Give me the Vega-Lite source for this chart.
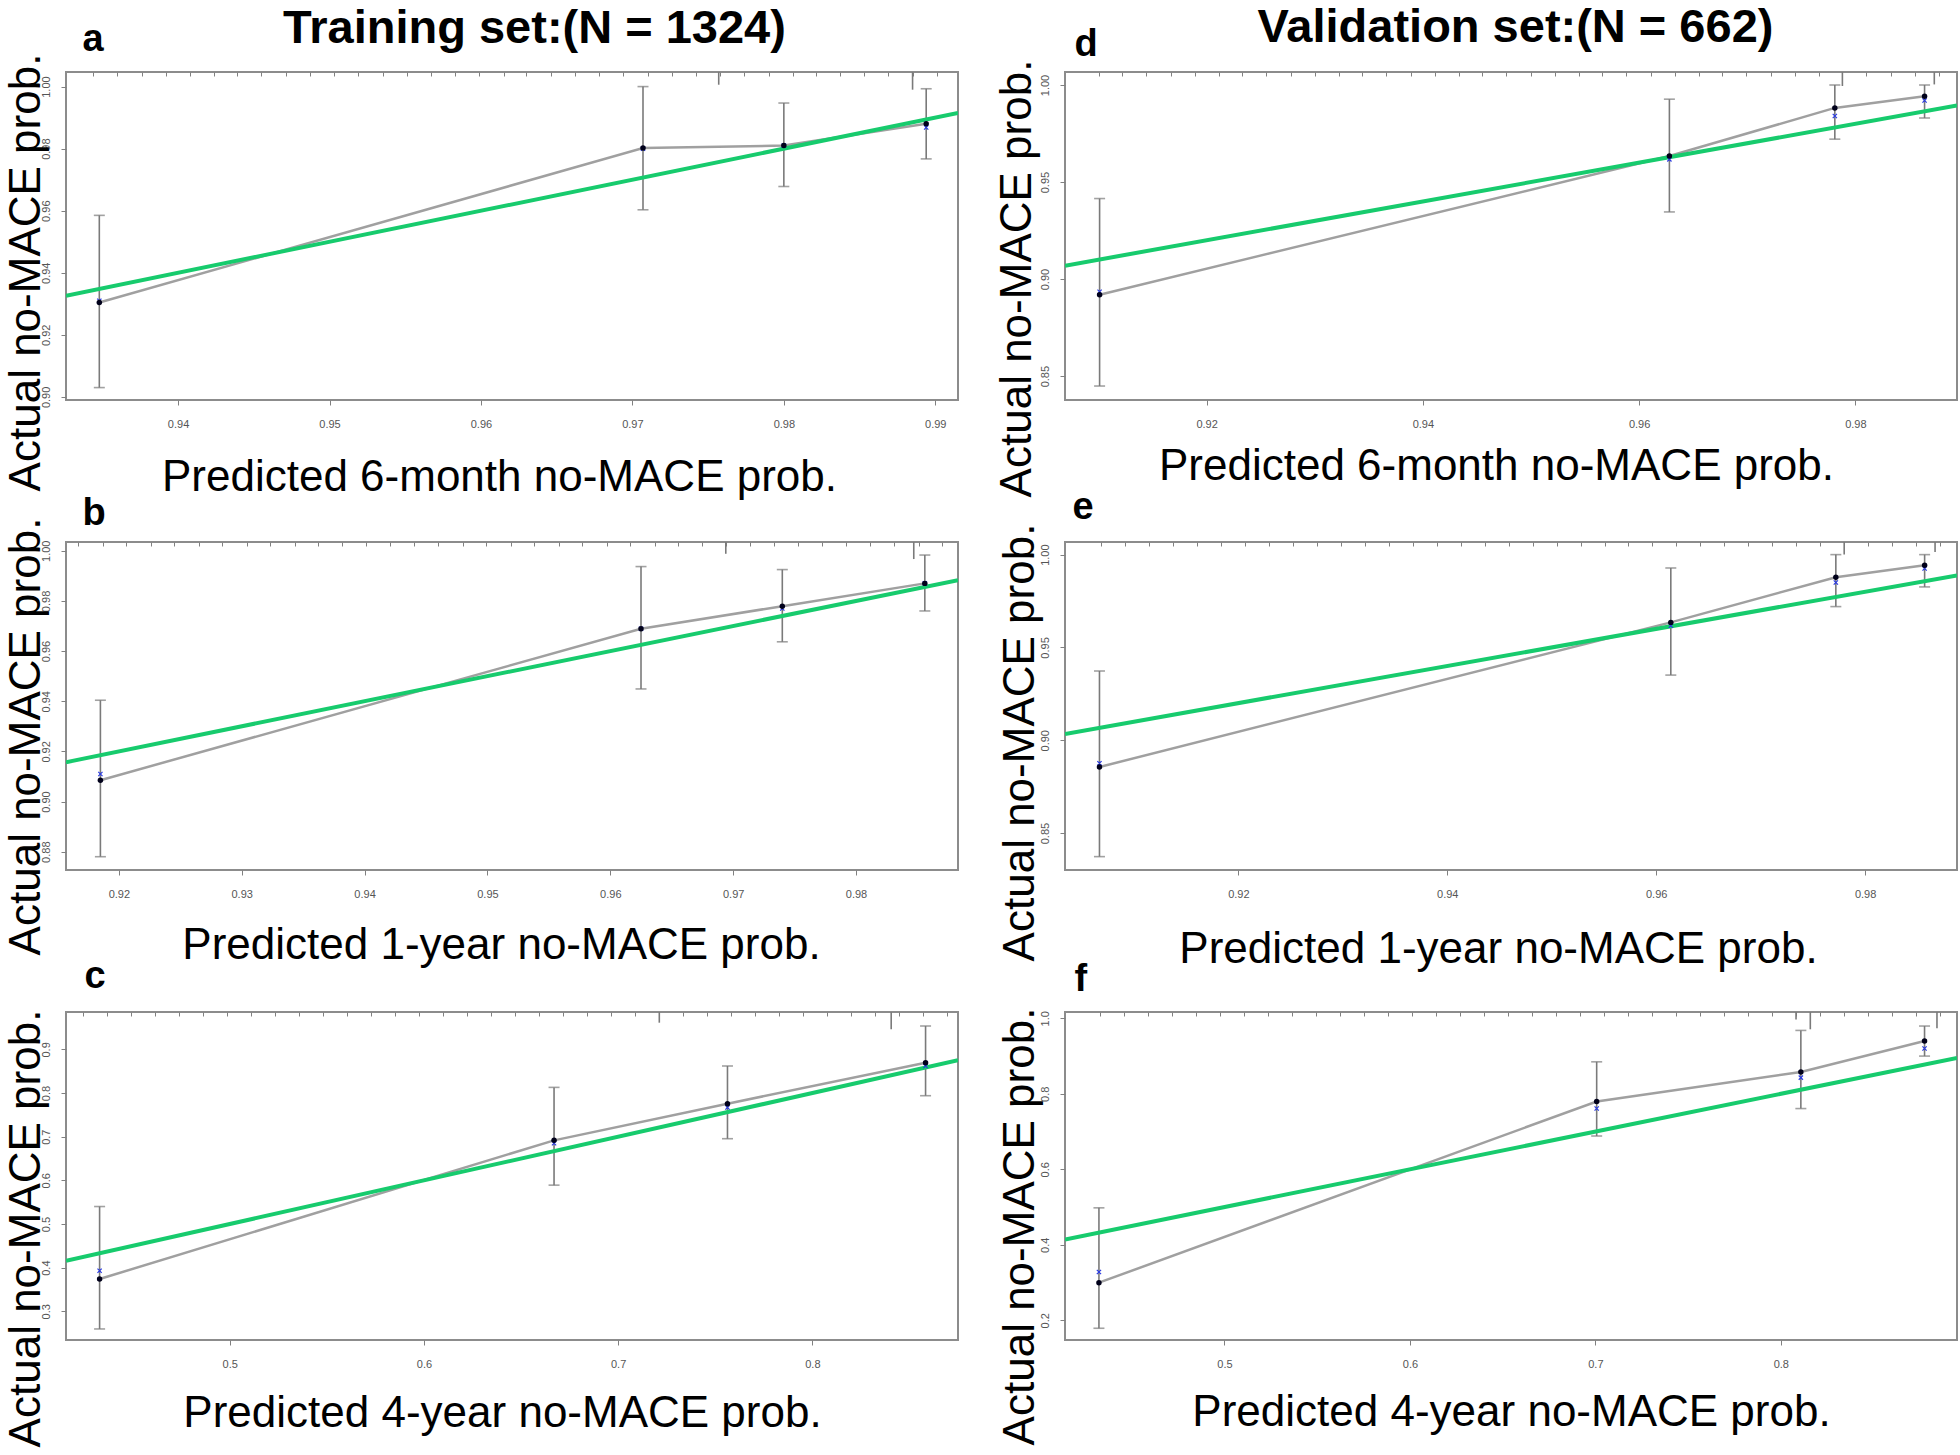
{
  "$schema": "https://vega.github.io/schema/vega-lite/v6.json",
  "background": "white",
  "padding": {"left": 2, "top": 2, "right": 0, "bottom": 0},
  "datasets": {
    "pts": [
      {"panel": "a", "pred": 0.9348, "obs": 0.9304, "lo": 0.903, "hi": 0.9585, "corr": 0.931},
      {"panel": "a", "pred": 0.9707, "obs": 0.9802, "lo": 0.9603, "hi": 1.0, "corr": 0.98},
      {"panel": "a", "pred": 0.98, "obs": 0.981, "lo": 0.9678, "hi": 0.9947, "corr": 0.981},
      {"panel": "a", "pred": 0.9894, "obs": 0.988, "lo": 0.9767, "hi": 0.9993, "corr": 0.9868},
      {"panel": "b", "pred": 0.9185, "obs": 0.9085, "lo": 0.878, "hi": 0.9404, "corr": 0.911},
      {"panel": "b", "pred": 0.9625, "obs": 0.9689, "lo": 0.9449, "hi": 0.9937, "corr": 0.9689},
      {"panel": "b", "pred": 0.974, "obs": 0.9779, "lo": 0.9637, "hi": 0.9925, "corr": 0.977},
      {"panel": "b", "pred": 0.9856, "obs": 0.987, "lo": 0.976, "hi": 0.9983, "corr": 0.987},
      {"panel": "c", "pred": 0.433, "obs": 0.374, "lo": 0.2595, "hi": 0.54, "corr": 0.393},
      {"panel": "c", "pred": 0.667, "obs": 0.6916, "lo": 0.589, "hi": 0.813, "corr": 0.685},
      {"panel": "c", "pred": 0.7563, "obs": 0.7757, "lo": 0.6954, "hi": 0.862, "corr": 0.767},
      {"panel": "c", "pred": 0.8583, "obs": 0.8696, "lo": 0.7939, "hi": 0.9536, "corr": 0.862},
      {"panel": "d", "pred": 0.9101, "obs": 0.8919, "lo": 0.8449, "hi": 0.9415, "corr": 0.8935},
      {"panel": "d", "pred": 0.9628, "obs": 0.9634, "lo": 0.9346, "hi": 0.9927, "corr": 0.9617},
      {"panel": "d", "pred": 0.9781, "obs": 0.9882, "lo": 0.9721, "hi": 1.0, "corr": 0.984},
      {"panel": "d", "pred": 0.9864, "obs": 0.9942, "lo": 0.983, "hi": 1.0, "corr": 0.992},
      {"panel": "e", "pred": 0.9067, "obs": 0.8856, "lo": 0.8373, "hi": 0.9373, "corr": 0.8876},
      {"panel": "e", "pred": 0.9614, "obs": 0.9635, "lo": 0.9351, "hi": 0.9928, "corr": 0.9617},
      {"panel": "e", "pred": 0.9772, "obs": 0.9878, "lo": 0.972, "hi": 1.0, "corr": 0.985},
      {"panel": "e", "pred": 0.9857, "obs": 0.9943, "lo": 0.9826, "hi": 1.0, "corr": 0.9925},
      {"panel": "f", "pred": 0.4323, "obs": 0.2998, "lo": 0.179, "hi": 0.498, "corr": 0.328},
      {"panel": "f", "pred": 0.7007, "obs": 0.7797, "lo": 0.6883, "hi": 0.8848, "corr": 0.761},
      {"panel": "f", "pred": 0.8108, "obs": 0.8578, "lo": 0.761, "hi": 0.968, "corr": 0.843},
      {"panel": "f", "pred": 0.8775, "obs": 0.94, "lo": 0.9, "hi": 0.9796, "corr": 0.92}
    ],
    "ideal": [
      {"panel": "a", "x": 0.9326, "y": 0.9326}, {"panel": "a", "x": 0.9915, "y": 0.9915},
      {"panel": "b", "x": 0.9157, "y": 0.9157}, {"panel": "b", "x": 0.9883, "y": 0.9883},
      {"panel": "c", "x": 0.4157, "y": 0.4157}, {"panel": "c", "x": 0.875, "y": 0.875},
      {"panel": "d", "x": 0.9069, "y": 0.9069}, {"panel": "d", "x": 0.9894, "y": 0.9894},
      {"panel": "e", "x": 0.9034, "y": 0.9034}, {"panel": "e", "x": 0.9888, "y": 0.9888},
      {"panel": "f", "x": 0.414, "y": 0.414}, {"panel": "f", "x": 0.895, "y": 0.895}
    ],
    "spikes": [
      {"panel": "a", "x": 0.9757, "end": 1.0006}, {"panel": "a", "x": 0.9885, "end": 0.999},
      {"panel": "b", "x": 0.9694, "end": 0.9988}, {"panel": "b", "x": 0.9847, "end": 0.9967},
      {"panel": "c", "x": 0.7212, "end": 0.9612}, {"panel": "c", "x": 0.8406, "end": 0.946},
      {"panel": "d", "x": 0.9788, "end": 0.9995}, {"panel": "d", "x": 0.9873, "end": 1.0003},
      {"panel": "e", "x": 0.978, "end": 1.0}, {"panel": "e", "x": 0.9867, "end": 1.0014},
      {"panel": "f", "x": 0.8082, "end": 0.997}, {"panel": "f", "x": 0.8159, "end": 0.971}, {"panel": "f", "x": 0.8842, "end": 0.9735}
    ]
  },
  "config": {
    "view": {"stroke": "#8c8c8c", "strokeWidth": 2},
    "font": "Liberation Sans",
    "axis": {"grid": false, "domain": false, "ticks": true, "tickColor": "#808080", "tickSize": 5, "tickWidth": 1, "labelFont": "Liberation Sans", "labelFontSize": 11, "labelColor": "#555555", "titleFont": "Liberation Sans", "titleFontSize": 44, "titleFontWeight": "normal", "titleColor": "#000000", "titleAlign": "center", "titleBaseline": "alphabetic", "labelOverlap": false, "labelFlush": false},
    "axisX": {"labelAngle": 0, "labelPadding": 13},
    "axisY": {"labelAngle": -90, "labelAlign": "center", "labelBaseline": "bottom", "labelPadding": 10}
  },
  "columns": 2,
  "bounds": "flush",
  "spacing": {"row": 142, "column": 107},
  "concat": [
    {
      "width": 892, "height": 328,
      "resolve": {"axis": {"x": "independent", "y": "independent"}},
      "layer": [
        {"layer": [
          {"data": {"name": "pts"}, "transform": [{"filter": "datum.panel === 'a'"}],
           "mark": {"type": "rule", "color": "#7a7a7a", "strokeWidth": 1.6},
           "encoding": {
             "x": {"field": "pred", "type": "quantitative", "scale": {"domain": [0.9326, 0.9915], "nice": false, "zero": false}, "axis": {"values": [0.94, 0.95, 0.96, 0.97, 0.98, 0.99], "format": ".2f", "title": "Predicted 6-month no-MACE prob.", "titleX": 433, "titleY": 90}},
             "y": {"field": "lo", "type": "quantitative", "scale": {"domain": [0.899, 1.0047], "nice": false, "zero": false}, "axis": {"values": [0.9, 0.92, 0.94, 0.96, 0.98, 1.0], "format": ".2f", "title": "Actual no-MACE prob.", "titleX": -27, "titleY": 200}},
             "y2": {"field": "hi"}}},
          {"data": {"name": "pts"}, "transform": [{"filter": "datum.panel === 'a'"}],
           "mark": {"type": "tick", "orient": "horizontal", "size": 11, "thickness": 1.6, "color": "#7a7a7a"},
           "encoding": {"x": {"field": "pred", "type": "quantitative"}, "y": {"field": "lo", "type": "quantitative"}}},
          {"data": {"name": "pts"}, "transform": [{"filter": "datum.panel === 'a'"}],
           "mark": {"type": "tick", "orient": "horizontal", "size": 11, "thickness": 1.6, "color": "#7a7a7a"},
           "encoding": {"x": {"field": "pred", "type": "quantitative"}, "y": {"field": "hi", "type": "quantitative"}}},
          {"data": {"name": "pts"}, "transform": [{"filter": "datum.panel === 'a'"}],
           "mark": {"type": "line", "color": "#a0a0a0", "strokeWidth": 2.5},
           "encoding": {"x": {"field": "pred", "type": "quantitative"}, "y": {"field": "obs", "type": "quantitative"}}},
          {"data": {"name": "ideal"}, "transform": [{"filter": "datum.panel === 'a'"}],
           "mark": {"type": "line", "color": "#17CB6D", "strokeWidth": 4, "clip": true},
           "encoding": {"x": {"field": "x", "type": "quantitative"}, "y": {"field": "y", "type": "quantitative"}}},
          {"data": {"name": "pts"}, "transform": [{"filter": "datum.panel === 'a'"}],
           "mark": {"type": "point", "shape": "M-1,-1L1,1M-1,1L1,-1", "size": 18, "color": "#2a3ae0", "strokeWidth": 1.2, "filled": false, "opacity": 1},
           "encoding": {"x": {"field": "pred", "type": "quantitative"}, "y": {"field": "corr", "type": "quantitative"}}},
          {"data": {"name": "pts"}, "transform": [{"filter": "datum.panel === 'a'"}],
           "mark": {"type": "point", "shape": "circle", "size": 30, "color": "#00001a", "filled": true, "opacity": 1},
           "encoding": {"x": {"field": "pred", "type": "quantitative"}, "y": {"field": "obs", "type": "quantitative"}}}
        ]},
        {"data": {"name": "spikes"}, "transform": [{"filter": "datum.panel === 'a'"}],
         "mark": {"type": "rule", "color": "#7a7a7a", "strokeWidth": 1.6},
         "encoding": {
           "x": {"field": "x", "type": "quantitative", "axis": {"orient": "top", "labels": false, "ticks": true, "tickSize": -4, "values": [0.9344, 0.936, 0.9376, 0.9392, 0.9408, 0.9424, 0.9439, 0.9455, 0.9471, 0.9487, 0.9503, 0.9519, 0.9535, 0.9551, 0.9567, 0.9583, 0.9599, 0.9615, 0.963, 0.9646, 0.9662, 0.9678, 0.9694, 0.971, 0.9726, 0.9742, 0.9758, 0.9774, 0.979, 0.9806, 0.9821, 0.9837, 0.9853, 0.9869, 0.9885, 0.9901], "title": "Training set:(N = 1324)", "titleFontSize": 47, "titleFontWeight": "bold", "titleX": 468, "titleY": -30}},
           "y": {"field": "end", "type": "quantitative", "axis": {"orient": "right", "labels": false, "ticks": false, "title": "a", "titleAngle": 0.01, "titleAlign": "left", "titleFontSize": 38, "titleFontWeight": "bold", "titleX": -876, "titleY": -22}},
           "y2": {"datum": 1.0047}}}
      ]
    },
    {
      "width": 892, "height": 328,
      "resolve": {"axis": {"x": "independent", "y": "independent"}},
      "layer": [
        {"layer": [
          {"data": {"name": "pts"}, "transform": [{"filter": "datum.panel === 'd'"}],
           "mark": {"type": "rule", "color": "#7a7a7a", "strokeWidth": 1.6},
           "encoding": {
             "x": {"field": "pred", "type": "quantitative", "scale": {"domain": [0.9069, 0.9894], "nice": false, "zero": false}, "axis": {"values": [0.92, 0.94, 0.96, 0.98], "format": ".2f", "title": "Predicted 6-month no-MACE prob.", "titleX": 431, "titleY": 79}},
             "y": {"field": "lo", "type": "quantitative", "scale": {"domain": [0.8377, 1.0067], "nice": false, "zero": false}, "axis": {"values": [0.85, 0.9, 0.95, 1.0], "format": ".2f", "title": "Actual no-MACE prob.", "titleX": -35, "titleY": 206}},
             "y2": {"field": "hi"}}},
          {"data": {"name": "pts"}, "transform": [{"filter": "datum.panel === 'd'"}],
           "mark": {"type": "tick", "orient": "horizontal", "size": 11, "thickness": 1.6, "color": "#7a7a7a"},
           "encoding": {"x": {"field": "pred", "type": "quantitative"}, "y": {"field": "lo", "type": "quantitative"}}},
          {"data": {"name": "pts"}, "transform": [{"filter": "datum.panel === 'd'"}],
           "mark": {"type": "tick", "orient": "horizontal", "size": 11, "thickness": 1.6, "color": "#7a7a7a"},
           "encoding": {"x": {"field": "pred", "type": "quantitative"}, "y": {"field": "hi", "type": "quantitative"}}},
          {"data": {"name": "pts"}, "transform": [{"filter": "datum.panel === 'd'"}],
           "mark": {"type": "line", "color": "#a0a0a0", "strokeWidth": 2.5},
           "encoding": {"x": {"field": "pred", "type": "quantitative"}, "y": {"field": "obs", "type": "quantitative"}}},
          {"data": {"name": "ideal"}, "transform": [{"filter": "datum.panel === 'd'"}],
           "mark": {"type": "line", "color": "#17CB6D", "strokeWidth": 4, "clip": true},
           "encoding": {"x": {"field": "x", "type": "quantitative"}, "y": {"field": "y", "type": "quantitative"}}},
          {"data": {"name": "pts"}, "transform": [{"filter": "datum.panel === 'd'"}],
           "mark": {"type": "point", "shape": "M-1,-1L1,1M-1,1L1,-1", "size": 18, "color": "#2a3ae0", "strokeWidth": 1.2, "filled": false, "opacity": 1},
           "encoding": {"x": {"field": "pred", "type": "quantitative"}, "y": {"field": "corr", "type": "quantitative"}}},
          {"data": {"name": "pts"}, "transform": [{"filter": "datum.panel === 'd'"}],
           "mark": {"type": "point", "shape": "circle", "size": 30, "color": "#00001a", "filled": true, "opacity": 1},
           "encoding": {"x": {"field": "pred", "type": "quantitative"}, "y": {"field": "obs", "type": "quantitative"}}}
        ]},
        {"data": {"name": "spikes"}, "transform": [{"filter": "datum.panel === 'd'"}],
         "mark": {"type": "rule", "color": "#7a7a7a", "strokeWidth": 1.6},
         "encoding": {
           "x": {"field": "x", "type": "quantitative", "axis": {"orient": "top", "labels": false, "ticks": true, "tickSize": -4, "values": [0.91, 0.9122, 0.9144, 0.9167, 0.9189, 0.9211, 0.9233, 0.9255, 0.9278, 0.93, 0.9322, 0.9344, 0.9366, 0.9389, 0.9411, 0.9433, 0.9455, 0.9477, 0.95, 0.9522, 0.9544, 0.9566, 0.9588, 0.9611, 0.9633, 0.9655, 0.9677, 0.9699, 0.9722, 0.9744, 0.9766, 0.9788, 0.981, 0.9833, 0.9855, 0.9877], "title": "Validation set:(N = 662)", "titleFontSize": 47, "titleFontWeight": "bold", "titleX": 450, "titleY": -31}},
           "y": {"field": "end", "type": "quantitative", "axis": {"orient": "right", "labels": false, "ticks": false, "title": "d", "titleAngle": 0.01, "titleAlign": "left", "titleFontSize": 38, "titleFontWeight": "bold", "titleX": -883, "titleY": -17}},
           "y2": {"datum": 1.0067}}}
      ]
    },
    {
      "width": 892, "height": 328,
      "resolve": {"axis": {"x": "independent", "y": "independent"}},
      "layer": [
        {"layer": [
          {"data": {"name": "pts"}, "transform": [{"filter": "datum.panel === 'b'"}],
           "mark": {"type": "rule", "color": "#7a7a7a", "strokeWidth": 1.6},
           "encoding": {
             "x": {"field": "pred", "type": "quantitative", "scale": {"domain": [0.9157, 0.9883], "nice": false, "zero": false}, "axis": {"values": [0.92, 0.93, 0.94, 0.95, 0.96, 0.97, 0.98], "format": ".2f", "title": "Predicted 1-year  no-MACE prob.", "titleX": 435, "titleY": 88}},
             "y": {"field": "lo", "type": "quantitative", "scale": {"domain": [0.8727, 1.0035], "nice": false, "zero": false}, "axis": {"values": [0.88, 0.9, 0.92, 0.94, 0.96, 0.98, 1.0], "format": ".2f", "title": "Actual no-MACE prob.", "titleX": -27, "titleY": 194}},
             "y2": {"field": "hi"}}},
          {"data": {"name": "pts"}, "transform": [{"filter": "datum.panel === 'b'"}],
           "mark": {"type": "tick", "orient": "horizontal", "size": 11, "thickness": 1.6, "color": "#7a7a7a"},
           "encoding": {"x": {"field": "pred", "type": "quantitative"}, "y": {"field": "lo", "type": "quantitative"}}},
          {"data": {"name": "pts"}, "transform": [{"filter": "datum.panel === 'b'"}],
           "mark": {"type": "tick", "orient": "horizontal", "size": 11, "thickness": 1.6, "color": "#7a7a7a"},
           "encoding": {"x": {"field": "pred", "type": "quantitative"}, "y": {"field": "hi", "type": "quantitative"}}},
          {"data": {"name": "pts"}, "transform": [{"filter": "datum.panel === 'b'"}],
           "mark": {"type": "line", "color": "#a0a0a0", "strokeWidth": 2.5},
           "encoding": {"x": {"field": "pred", "type": "quantitative"}, "y": {"field": "obs", "type": "quantitative"}}},
          {"data": {"name": "ideal"}, "transform": [{"filter": "datum.panel === 'b'"}],
           "mark": {"type": "line", "color": "#17CB6D", "strokeWidth": 4, "clip": true},
           "encoding": {"x": {"field": "x", "type": "quantitative"}, "y": {"field": "y", "type": "quantitative"}}},
          {"data": {"name": "pts"}, "transform": [{"filter": "datum.panel === 'b'"}],
           "mark": {"type": "point", "shape": "M-1,-1L1,1M-1,1L1,-1", "size": 18, "color": "#2a3ae0", "strokeWidth": 1.2, "filled": false, "opacity": 1},
           "encoding": {"x": {"field": "pred", "type": "quantitative"}, "y": {"field": "corr", "type": "quantitative"}}},
          {"data": {"name": "pts"}, "transform": [{"filter": "datum.panel === 'b'"}],
           "mark": {"type": "point", "shape": "circle", "size": 30, "color": "#00001a", "filled": true, "opacity": 1},
           "encoding": {"x": {"field": "pred", "type": "quantitative"}, "y": {"field": "obs", "type": "quantitative"}}}
        ]},
        {"data": {"name": "spikes"}, "transform": [{"filter": "datum.panel === 'b'"}],
         "mark": {"type": "rule", "color": "#7a7a7a", "strokeWidth": 1.6},
         "encoding": {
           "x": {"field": "x", "type": "quantitative", "axis": {"orient": "top", "labels": false, "ticks": true, "tickSize": -4, "values": [0.9167, 0.9187, 0.9206, 0.9226, 0.9245, 0.9265, 0.9284, 0.9304, 0.9323, 0.9343, 0.9362, 0.9382, 0.9401, 0.9421, 0.944, 0.946, 0.948, 0.9499, 0.9519, 0.9538, 0.9558, 0.9577, 0.9597, 0.9616, 0.9636, 0.9655, 0.9675, 0.9694, 0.9714, 0.9733, 0.9753, 0.9772, 0.9792, 0.9811, 0.9831, 0.9851, 0.987], "title": null}},
           "y": {"field": "end", "type": "quantitative", "axis": {"orient": "right", "labels": false, "ticks": false, "title": "b", "titleAngle": 0.01, "titleAlign": "left", "titleFontSize": 38, "titleFontWeight": "bold", "titleX": -876, "titleY": -18}},
           "y2": {"datum": 1.0035}}}
      ]
    },
    {
      "width": 892, "height": 328,
      "resolve": {"axis": {"x": "independent", "y": "independent"}},
      "layer": [
        {"layer": [
          {"data": {"name": "pts"}, "transform": [{"filter": "datum.panel === 'e'"}],
           "mark": {"type": "rule", "color": "#7a7a7a", "strokeWidth": 1.6},
           "encoding": {
             "x": {"field": "pred", "type": "quantitative", "scale": {"domain": [0.9034, 0.9888], "nice": false, "zero": false}, "axis": {"values": [0.92, 0.94, 0.96, 0.98], "format": ".2f", "title": "Predicted 1-year no-MACE prob.", "titleX": 433, "titleY": 92}},
             "y": {"field": "lo", "type": "quantitative", "scale": {"domain": [0.8301, 1.0068], "nice": false, "zero": false}, "axis": {"values": [0.85, 0.9, 0.95, 1.0], "format": ".2f", "title": "Actual no-MACE prob.", "titleX": -32, "titleY": 200}},
             "y2": {"field": "hi"}}},
          {"data": {"name": "pts"}, "transform": [{"filter": "datum.panel === 'e'"}],
           "mark": {"type": "tick", "orient": "horizontal", "size": 11, "thickness": 1.6, "color": "#7a7a7a"},
           "encoding": {"x": {"field": "pred", "type": "quantitative"}, "y": {"field": "lo", "type": "quantitative"}}},
          {"data": {"name": "pts"}, "transform": [{"filter": "datum.panel === 'e'"}],
           "mark": {"type": "tick", "orient": "horizontal", "size": 11, "thickness": 1.6, "color": "#7a7a7a"},
           "encoding": {"x": {"field": "pred", "type": "quantitative"}, "y": {"field": "hi", "type": "quantitative"}}},
          {"data": {"name": "pts"}, "transform": [{"filter": "datum.panel === 'e'"}],
           "mark": {"type": "line", "color": "#a0a0a0", "strokeWidth": 2.5},
           "encoding": {"x": {"field": "pred", "type": "quantitative"}, "y": {"field": "obs", "type": "quantitative"}}},
          {"data": {"name": "ideal"}, "transform": [{"filter": "datum.panel === 'e'"}],
           "mark": {"type": "line", "color": "#17CB6D", "strokeWidth": 4, "clip": true},
           "encoding": {"x": {"field": "x", "type": "quantitative"}, "y": {"field": "y", "type": "quantitative"}}},
          {"data": {"name": "pts"}, "transform": [{"filter": "datum.panel === 'e'"}],
           "mark": {"type": "point", "shape": "M-1,-1L1,1M-1,1L1,-1", "size": 18, "color": "#2a3ae0", "strokeWidth": 1.2, "filled": false, "opacity": 1},
           "encoding": {"x": {"field": "pred", "type": "quantitative"}, "y": {"field": "corr", "type": "quantitative"}}},
          {"data": {"name": "pts"}, "transform": [{"filter": "datum.panel === 'e'"}],
           "mark": {"type": "point", "shape": "circle", "size": 30, "color": "#00001a", "filled": true, "opacity": 1},
           "encoding": {"x": {"field": "pred", "type": "quantitative"}, "y": {"field": "obs", "type": "quantitative"}}}
        ]},
        {"data": {"name": "spikes"}, "transform": [{"filter": "datum.panel === 'e'"}],
         "mark": {"type": "rule", "color": "#7a7a7a", "strokeWidth": 1.6},
         "encoding": {
           "x": {"field": "x", "type": "quantitative", "axis": {"orient": "top", "labels": false, "ticks": true, "tickSize": -4, "values": [0.9068, 0.9091, 0.9114, 0.9137, 0.916, 0.9183, 0.9206, 0.9229, 0.9252, 0.9275, 0.9298, 0.9321, 0.9344, 0.9367, 0.939, 0.9413, 0.9436, 0.9459, 0.9482, 0.9505, 0.9528, 0.9551, 0.9573, 0.9596, 0.9619, 0.9642, 0.9665, 0.9688, 0.9711, 0.9734, 0.9757, 0.978, 0.9803, 0.9826, 0.9849, 0.9872], "title": null}},
           "y": {"field": "end", "type": "quantitative", "axis": {"orient": "right", "labels": false, "ticks": false, "title": "e", "titleAngle": 0.01, "titleAlign": "left", "titleFontSize": 38, "titleFontWeight": "bold", "titleX": -885, "titleY": -24}},
           "y2": {"datum": 1.0068}}}
      ]
    },
    {
      "width": 892, "height": 328,
      "resolve": {"axis": {"x": "independent", "y": "independent"}},
      "layer": [
        {"layer": [
          {"data": {"name": "pts"}, "transform": [{"filter": "datum.panel === 'c'"}],
           "mark": {"type": "rule", "color": "#7a7a7a", "strokeWidth": 1.6},
           "encoding": {
             "x": {"field": "pred", "type": "quantitative", "scale": {"domain": [0.4157, 0.875], "nice": false, "zero": false}, "axis": {"values": [0.5, 0.6, 0.7, 0.8], "format": ".1f", "title": "Predicted 4-year no-MACE prob.", "titleX": 436, "titleY": 86}},
             "y": {"field": "lo", "type": "quantitative", "scale": {"domain": [0.2342, 0.9857], "nice": false, "zero": false}, "axis": {"values": [0.3, 0.4, 0.5, 0.6, 0.7, 0.8, 0.9], "format": ".1f", "title": "Actual no-MACE prob.", "titleX": -27, "titleY": 216}},
             "y2": {"field": "hi"}}},
          {"data": {"name": "pts"}, "transform": [{"filter": "datum.panel === 'c'"}],
           "mark": {"type": "tick", "orient": "horizontal", "size": 11, "thickness": 1.6, "color": "#7a7a7a"},
           "encoding": {"x": {"field": "pred", "type": "quantitative"}, "y": {"field": "lo", "type": "quantitative"}}},
          {"data": {"name": "pts"}, "transform": [{"filter": "datum.panel === 'c'"}],
           "mark": {"type": "tick", "orient": "horizontal", "size": 11, "thickness": 1.6, "color": "#7a7a7a"},
           "encoding": {"x": {"field": "pred", "type": "quantitative"}, "y": {"field": "hi", "type": "quantitative"}}},
          {"data": {"name": "pts"}, "transform": [{"filter": "datum.panel === 'c'"}],
           "mark": {"type": "line", "color": "#a0a0a0", "strokeWidth": 2.5},
           "encoding": {"x": {"field": "pred", "type": "quantitative"}, "y": {"field": "obs", "type": "quantitative"}}},
          {"data": {"name": "ideal"}, "transform": [{"filter": "datum.panel === 'c'"}],
           "mark": {"type": "line", "color": "#17CB6D", "strokeWidth": 4, "clip": true},
           "encoding": {"x": {"field": "x", "type": "quantitative"}, "y": {"field": "y", "type": "quantitative"}}},
          {"data": {"name": "pts"}, "transform": [{"filter": "datum.panel === 'c'"}],
           "mark": {"type": "point", "shape": "M-1,-1L1,1M-1,1L1,-1", "size": 18, "color": "#2a3ae0", "strokeWidth": 1.2, "filled": false, "opacity": 1},
           "encoding": {"x": {"field": "pred", "type": "quantitative"}, "y": {"field": "corr", "type": "quantitative"}}},
          {"data": {"name": "pts"}, "transform": [{"filter": "datum.panel === 'c'"}],
           "mark": {"type": "point", "shape": "circle", "size": 30, "color": "#00001a", "filled": true, "opacity": 1},
           "encoding": {"x": {"field": "pred", "type": "quantitative"}, "y": {"field": "obs", "type": "quantitative"}}}
        ]},
        {"data": {"name": "spikes"}, "transform": [{"filter": "datum.panel === 'c'"}],
         "mark": {"type": "rule", "color": "#7a7a7a", "strokeWidth": 1.6},
         "encoding": {
           "x": {"field": "x", "type": "quantitative", "axis": {"orient": "top", "labels": false, "ticks": true, "tickSize": -4, "values": [0.4246, 0.437, 0.4493, 0.4617, 0.474, 0.4864, 0.4988, 0.5111, 0.5235, 0.5358, 0.5482, 0.5605, 0.5729, 0.5853, 0.5976, 0.61, 0.6223, 0.6347, 0.647, 0.6594, 0.6718, 0.6841, 0.6965, 0.7088, 0.7212, 0.7336, 0.7459, 0.7583, 0.7706, 0.783, 0.7953, 0.8077, 0.8201, 0.8324, 0.8448, 0.8571, 0.8695], "title": null}},
           "y": {"field": "end", "type": "quantitative", "axis": {"orient": "right", "labels": false, "ticks": false, "title": "c", "titleAngle": 0.01, "titleAlign": "left", "titleFontSize": 38, "titleFontWeight": "bold", "titleX": -874, "titleY": -25}},
           "y2": {"datum": 0.9857}}}
      ]
    },
    {
      "width": 892, "height": 328,
      "resolve": {"axis": {"x": "independent", "y": "independent"}},
      "layer": [
        {"layer": [
          {"data": {"name": "pts"}, "transform": [{"filter": "datum.panel === 'f'"}],
           "mark": {"type": "rule", "color": "#7a7a7a", "strokeWidth": 1.6},
           "encoding": {
             "x": {"field": "pred", "type": "quantitative", "scale": {"domain": [0.414, 0.895], "nice": false, "zero": false}, "axis": {"values": [0.5, 0.6, 0.7, 0.8], "format": ".1f", "title": "Predicted 4-year no-MACE prob.", "titleX": 446, "titleY": 85}},
             "y": {"field": "lo", "type": "quantitative", "scale": {"domain": [0.1479, 1.0168], "nice": false, "zero": false}, "axis": {"values": [0.2, 0.4, 0.6, 0.8, 1.0], "format": ".1f", "title": "Actual no-MACE prob.", "titleX": -32, "titleY": 214}},
             "y2": {"field": "hi"}}},
          {"data": {"name": "pts"}, "transform": [{"filter": "datum.panel === 'f'"}],
           "mark": {"type": "tick", "orient": "horizontal", "size": 11, "thickness": 1.6, "color": "#7a7a7a"},
           "encoding": {"x": {"field": "pred", "type": "quantitative"}, "y": {"field": "lo", "type": "quantitative"}}},
          {"data": {"name": "pts"}, "transform": [{"filter": "datum.panel === 'f'"}],
           "mark": {"type": "tick", "orient": "horizontal", "size": 11, "thickness": 1.6, "color": "#7a7a7a"},
           "encoding": {"x": {"field": "pred", "type": "quantitative"}, "y": {"field": "hi", "type": "quantitative"}}},
          {"data": {"name": "pts"}, "transform": [{"filter": "datum.panel === 'f'"}],
           "mark": {"type": "line", "color": "#a0a0a0", "strokeWidth": 2.5},
           "encoding": {"x": {"field": "pred", "type": "quantitative"}, "y": {"field": "obs", "type": "quantitative"}}},
          {"data": {"name": "ideal"}, "transform": [{"filter": "datum.panel === 'f'"}],
           "mark": {"type": "line", "color": "#17CB6D", "strokeWidth": 4, "clip": true},
           "encoding": {"x": {"field": "x", "type": "quantitative"}, "y": {"field": "y", "type": "quantitative"}}},
          {"data": {"name": "pts"}, "transform": [{"filter": "datum.panel === 'f'"}],
           "mark": {"type": "point", "shape": "M-1,-1L1,1M-1,1L1,-1", "size": 18, "color": "#2a3ae0", "strokeWidth": 1.2, "filled": false, "opacity": 1},
           "encoding": {"x": {"field": "pred", "type": "quantitative"}, "y": {"field": "corr", "type": "quantitative"}}},
          {"data": {"name": "pts"}, "transform": [{"filter": "datum.panel === 'f'"}],
           "mark": {"type": "point", "shape": "circle", "size": 30, "color": "#00001a", "filled": true, "opacity": 1},
           "encoding": {"x": {"field": "pred", "type": "quantitative"}, "y": {"field": "obs", "type": "quantitative"}}}
        ]},
        {"data": {"name": "spikes"}, "transform": [{"filter": "datum.panel === 'f'"}],
         "mark": {"type": "rule", "color": "#7a7a7a", "strokeWidth": 1.6},
         "encoding": {
           "x": {"field": "x", "type": "quantitative", "axis": {"orient": "top", "labels": false, "ticks": true, "tickSize": -4, "values": [0.4329, 0.4459, 0.4588, 0.4718, 0.4847, 0.4977, 0.5106, 0.5235, 0.5365, 0.5494, 0.5624, 0.5753, 0.5882, 0.6012, 0.6141, 0.6271, 0.64, 0.653, 0.6659, 0.6788, 0.6918, 0.7047, 0.7177, 0.7306, 0.7436, 0.7565, 0.7694, 0.7824, 0.7953, 0.8083, 0.8212, 0.8341, 0.8471, 0.86, 0.873, 0.8859], "title": null}},
           "y": {"field": "end", "type": "quantitative", "axis": {"orient": "right", "labels": false, "ticks": false, "title": "f", "titleAngle": 0.01, "titleAlign": "left", "titleFontSize": 38, "titleFontWeight": "bold", "titleX": -883, "titleY": -22}},
           "y2": {"datum": 1.0168}}}
      ]
    }
  ]
}
